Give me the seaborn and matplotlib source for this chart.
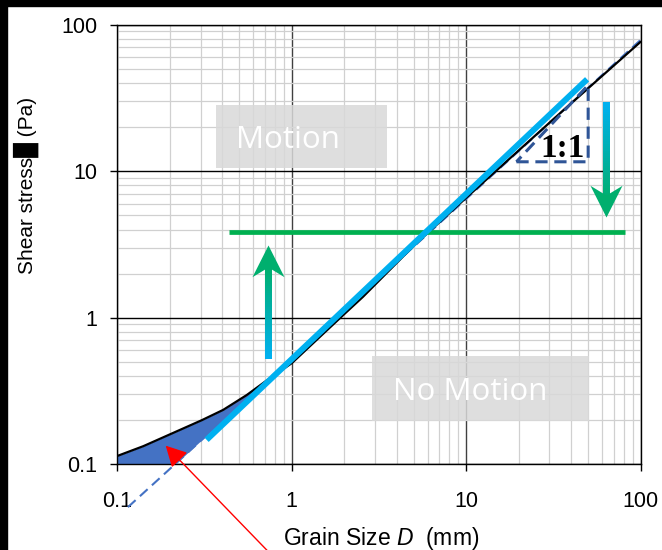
import numpy as np
import pandas as pd
import matplotlib
matplotlib.use("Agg")
import matplotlib.pyplot as plt
import matplotlib.colors as mcolors
from matplotlib.path import Path
from matplotlib.collections import LineCollection
from matplotlib.patches import Rectangle
from matplotlib.ticker import LogLocator, FixedLocator, FixedFormatter, NullFormatter
import seaborn as sns

# ---------------- data ----------------
curve_d = [0.1, 0.141, 0.2, 0.305, 0.404, 0.552, 0.702, 1.0, 1.5, 2.0, 2.56, 5.0, 10.0, 34.4, 100.0]
curve_tau = [0.114, 0.133, 0.160, 0.200, 0.235, 0.297, 0.366, 0.49, 0.77, 1.06, 1.39, 3.1, 6.6, 24.8, 76.5]

fit_d = [0.325, 49.3]          # cyan straight fit
fit_tau = [0.147, 42.4]

ref_d = [0.115, 100.0]         # dashed reference line
ref_tau = [0.051, 78.8]

crit_d = [0.438, 81.5]         # green critical stress
crit_tau = [3.83, 3.83]

tri_d = [19.4, 50.0, 50.0, 19.4]   # 1:1 slope triangle
tri_tau = [11.6, 11.6, 38.7, 11.6]

up_arrow_d = 0.733
up_arrow_tau = [0.535, 2.22, 3.14]     # shaft start, head notch, tip
down_arrow_d = 63.2
down_arrow_tau = [29.8, 6.36, 4.89]

tick_vals = [0.1, 1, 10, 100]
tick_labels = ["0.1", "1", "10", "100"]

# ---------------- style ----------------
sns.set_theme(style="white")
plt.rcParams['font.family'] = ['Liberation Sans', 'DejaVu Sans']
plt.rcParams['mathtext.fontset'] = 'custom'
plt.rcParams['mathtext.it'] = 'Liberation Sans:italic'
plt.rcParams['mathtext.rm'] = 'Liberation Sans'

CYAN = '#00B0F0'
GREEN = '#00B050'
AGREEN = '#00AF6E'
FILLBLUE = '#4472C4'
TRIBLUE = '#2F5597'

fig = plt.figure(figsize=(6.62, 5.5), dpi=100)
ax = fig.add_axes([0.1772, 0.1558, 0.7906, 0.7993])
ax.set_xscale('log')
ax.set_yscale('log')
ax.set_xlim(0.1, 100)
ax.set_ylim(0.1, 100)

# grid
for axis in (ax.xaxis, ax.yaxis):
    axis.set_minor_locator(LogLocator(base=10, subs=np.arange(2, 10), numticks=20))
    axis.set_minor_formatter(NullFormatter())
    axis.set_major_locator(FixedLocator(tick_vals))
    axis.set_major_formatter(FixedFormatter(tick_labels))
ax.grid(which='minor', color='#D0D0D0', lw=0.9)
ax.xaxis.grid(which='major', color='#404040', lw=1.0)
ax.yaxis.grid(which='major', color='black', lw=1.0)
ax.set_axisbelow(True)
for s in ax.spines.values():
    s.set_color('black')
    s.set_linewidth(1.0)

ax.tick_params(which='minor', length=0)
ax.tick_params(which='major', direction='out', length=5, width=1, color='black',
               labelsize=15.5, labelcolor='black', left=True, bottom=True)
ax.tick_params(axis='x', which='major', pad=14.5)
ax.tick_params(axis='y', which='major', pad=9.4)

# boxes
ax.add_patch(Rectangle((0.1886, 0.674), 0.5147 - 0.1886, 0.8173 - 0.674, transform=ax.transAxes,
                       facecolor='#D9D9D9', alpha=0.85, edgecolor='none', zorder=1.5))
ax.add_patch(Rectangle((0.486, 0.0992), 0.9018 - 0.486, 0.247 - 0.0992, transform=ax.transAxes,
                       facecolor='#D9D9D9', alpha=0.85, edgecolor='none', zorder=1.5))
ax.text(0.3267, 0.7202, "Motion", transform=ax.transAxes, ha='center', va='baseline',
        color='white', fontsize=22.5, family='Open Sans', zorder=1.6)
ax.text(0.6748, 0.1463, "No Motion", transform=ax.transAxes, ha='center', va='baseline',
        color='white', fontsize=22.5, family='Open Sans', zorder=1.6)

# fill between curve and reference line (clipped at 0.1)
lref = np.log10(ref_tau)
lrefd = np.log10(ref_d)
def ref_line(d):
    return 10 ** (lref[0] + (lref[1] - lref[0]) * (np.log10(d) - lrefd[0]) / (lrefd[1] - lrefd[0]))
xf = np.logspace(-1, np.log10(0.75), 300)
upper = 10 ** np.interp(np.log10(xf), np.log10(curve_d), np.log10(curve_tau))
lower = np.maximum(ref_line(xf), 0.1)
ax.fill_between(xf, lower, upper, where=upper >= lower, interpolate=True,
                color=FILLBLUE, lw=0, zorder=2)

# lines
sns.lineplot(x=ref_d, y=ref_tau, ax=ax, color=FILLBLUE, lw=1.5, linestyle=(0, (5, 2.8)),
             clip_on=False, zorder=3, estimator=None, sort=False)
sns.lineplot(x=curve_d, y=curve_tau, ax=ax, color='black', lw=1.6, zorder=4,
             estimator=None, sort=False)
sns.lineplot(x=tri_d, y=tri_tau, ax=ax, color=TRIBLUE, lw=2.2, linestyle=(0, (4, 2.2)),
             zorder=4.2, estimator=None, sort=False)
sns.lineplot(x=crit_d, y=crit_tau, ax=ax, color=GREEN, lw=3.4, zorder=4.5,
             estimator=None, sort=False, solid_capstyle='butt')
sns.lineplot(x=fit_d, y=fit_tau, ax=ax, color=CYAN, lw=4.3, zorder=5,
             estimator=None, sort=False, solid_capstyle='butt')

ax.text(35.8, 12.45, "1:1", ha='center', va='baseline', fontsize=24,
        family='Liberation Serif', weight='bold', color='black', zorder=6)

# gradient arrows
def grad_arrow(xd, taus, up):
    t0, tn, tip = taus
    ys = np.logspace(np.log10(t0), np.log10(tn), 41)
    pts = np.column_stack([np.full_like(ys, xd), ys])
    segs = np.stack([pts[:-1], pts[1:]], axis=1)
    c0 = np.array(mcolors.to_rgb(CYAN))
    c1 = np.array(mcolors.to_rgb(AGREEN))
    fr = np.linspace(0, 1, len(segs))[:, None]
    cols = c0 * (1 - fr) + c1 * fr
    lc = LineCollection(segs, colors=cols, linewidths=4.8, zorder=6, capstyle='butt',
                        antialiaseds=False)
    ax.add_collection(lc)
    s = 1 if up else -1
    verts = [(0, 0), (16, -31.7 * s), (0, -22 * s), (-16, -31.7 * s), (0, 0)]
    codes = [Path.MOVETO, Path.LINETO, Path.LINETO, Path.LINETO, Path.CLOSEPOLY]
    ax.plot([xd], [tip], marker=Path(verts, codes), ms=2 * 31.7 / (100 / 72),
            color=AGREEN, mec='none', zorder=6.5, ls='none')

grad_arrow(up_arrow_d, up_arrow_tau, True)
grad_arrow(down_arrow_d, down_arrow_tau, False)

# red pointer arrow
ax.annotate("", xy=(0.1894, 0.134), xycoords='data', xytext=(276.4, -10), textcoords='figure pixels',
            arrowprops=dict(arrowstyle='-|>,head_length=0.85,head_width=0.45', color='red', lw=1.0,
                            mutation_scale=15, shrinkA=0, shrinkB=0),
            annotation_clip=False, zorder=7)

# labels
ax.set_xlabel("Grain Size $D$  (mm)", fontsize=16.5, color='black')
ax.xaxis.set_label_coords(0.504, -0.137)
ax.set_ylabel("Shear stress\u2588 (Pa)", fontsize=15, color='black')
ax.yaxis.set_label_coords(-0.1496, 0.635)

# black frame strips
fig.add_artist(Rectangle((0, 0), 7 / 662, 1, transform=fig.transFigure, color='black', zorder=10))
fig.add_artist(Rectangle((0, 1 - 6 / 550), 1, 6 / 550, transform=fig.transFigure, color='black', zorder=10))

fig.savefig("out.png", dpi=100)
